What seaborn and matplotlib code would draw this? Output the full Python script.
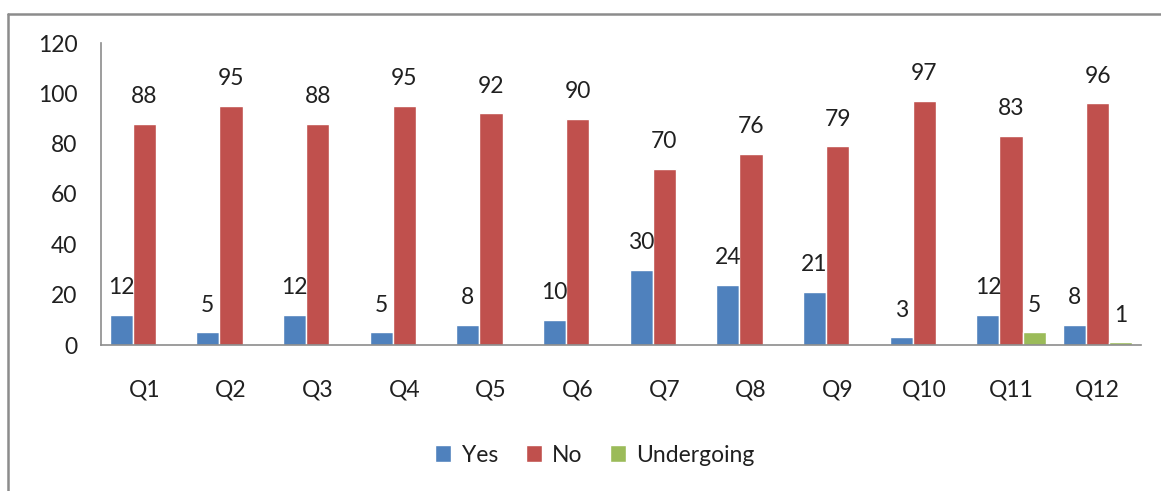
import matplotlib
matplotlib.use("Agg")
import matplotlib.pyplot as plt
import seaborn as sns
import pandas as pd
from matplotlib.lines import Line2D

questions = ["Q1", "Q2", "Q3", "Q4", "Q5", "Q6", "Q7", "Q8", "Q9", "Q10", "Q11", "Q12"]
yes = [12, 5, 12, 5, 8, 10, 30, 24, 21, 3, 12, 8]
no = [88, 95, 88, 95, 92, 90, 70, 76, 79, 97, 83, 96]
undergoing = [0, 0, 0, 0, 0, 0, 0, 0, 0, 0, 5, 1]
series = ["Yes", "No", "Undergoing"]
colors = ["#4F81BD", "#C0504D", "#9BBB59"]
y_ticks = [0, 20, 40, 60, 80, 100, 120]

sns.set_theme(style="white")
plt.rcParams["font.family"] = ["Lato", "DejaVu Sans"]
text_color = "#202020"
fs = 16.5

rows = []
for s, vals in zip(series, [yes, no, undergoing]):
    for q, v in zip(questions, vals):
        rows.append({"Question": q, "Series": s, "Value": v})
df = pd.DataFrame(rows)

fig = plt.figure(figsize=(11.61, 4.91), dpi=100)
ax = fig.add_axes([101 / 1161, 1 - 345 / 491, 1040 / 1161, 302 / 491])

sns.barplot(data=df, x="Question", y="Value", hue="Series", order=questions,
            hue_order=series, palette=colors, width=0.8, saturation=1,
            ax=ax, legend=True)

for cont in ax.containers:
    labels = [("%d" % b.get_height()) if b.get_height() > 0 else "" for b in cont]
    ax.bar_label(cont, labels=labels, padding=12, fontsize=fs, color=text_color)

ax.set_ylim(0, 120)
ax.set_yticks(y_ticks)
ax.set_xlim(-0.5, len(questions) - 0.5)
ax.set_xlabel("")
ax.set_ylabel("")
ax.tick_params(axis="both", length=0, labelsize=fs, colors=text_color)
ax.tick_params(axis="x", pad=25)
ax.tick_params(axis="y", pad=17)
for sp in ["top", "right"]:
    ax.spines[sp].set_visible(False)
for sp in ["left", "bottom"]:
    ax.spines[sp].set_color("#8c8c8c")
    ax.spines[sp].set_linewidth(1.2)
ax.grid(False)

handles, labels = ax.get_legend_handles_labels()
ax.get_legend().remove()
fig.legend(handles, labels, loc="center", bbox_to_anchor=(595 / 1161, 1 - 455 / 491),
           ncol=3, frameon=False, fontsize=fs, handlelength=0.7, handleheight=0.7,
           handletextpad=0.45, columnspacing=1.2, labelcolor=text_color)

# outer frame (top and left edges visible in the crop)
fig.add_artist(Line2D([7.5 / 1161, 1.0], [1 - 13.5 / 491, 1 - 13.5 / 491],
                      transform=fig.transFigure, color="#8c8c8c", linewidth=1.8))
fig.add_artist(Line2D([7.5 / 1161, 7.5 / 1161], [0.0, 1 - 13.5 / 491],
                      transform=fig.transFigure, color="#8c8c8c", linewidth=1.8))

fig.savefig("out.png", dpi=100, facecolor="white")
